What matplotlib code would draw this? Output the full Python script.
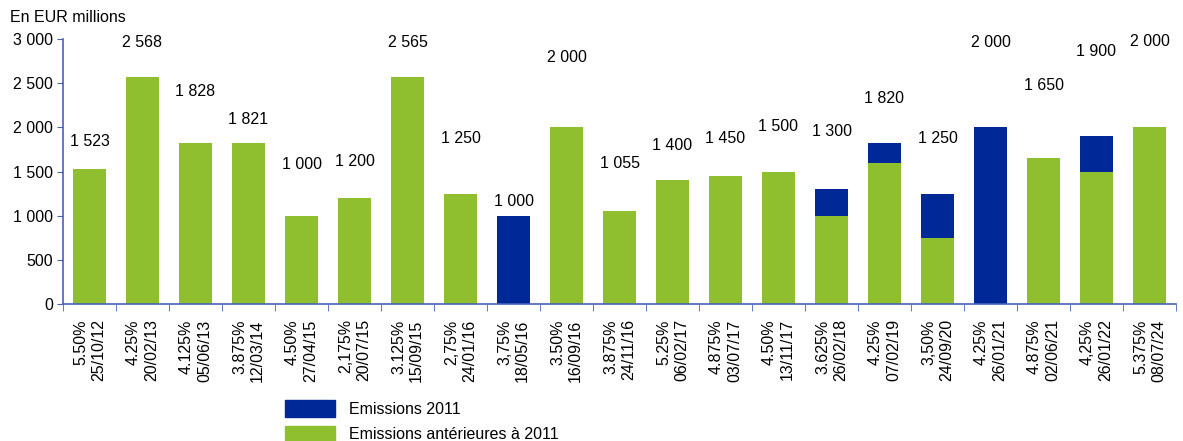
import matplotlib
matplotlib.use("Agg")
import matplotlib.pyplot as plt
from matplotlib.patches import Patch
from matplotlib.ticker import FuncFormatter, MultipleLocator
import numpy as np

plt.rcParams['font.family'] = ['Liberation Sans', 'DejaVu Sans']

coupons = ["5.50%", "4.25%", "4.125%", "3.875%", "4.50%", "2,175%", "3.125%", "2,75%",
           "3,75%", "3.50%", "3.875%", "5.25%", "4.875%", "4.50%", "3.625%", "4.25%",
           "3,50%", "4.25%", "4.875%", "4,25%", "5.375%"]
dates = ["25/10/12", "20/02/13", "05/06/13", "12/03/14", "27/04/15", "20/07/15", "15/09/15",
         "24/01/16", "18/05/16", "16/09/16", "24/11/16", "06/02/17", "03/07/17", "13/11/17",
         "26/02/18", "07/02/19", "24/09/20", "26/01/21", "02/06/21", "26/01/22", "08/07/24"]
# emissions before 2011 (green) and 2011 emissions (blue)
before_2011 = [1523, 2568, 1828, 1821, 1000, 1200, 2565, 1250, 0, 2000, 1055,
               1400, 1450, 1500, 1000, 1600, 750, 0, 1650, 1500, 2000]
in_2011 = [0, 0, 0, 0, 0, 0, 0, 0, 1000, 0, 0,
           0, 0, 0, 300, 220, 500, 2000, 0, 400, 0]
# height at which each total label sits (as in the source chart)
label_y = [1845, 2966, 2400, 2094, 1574, 1608, 2966, 1879, 1155, 2796, 1585,
           1800, 1879, 2015, 1958, 2332, 1868, 2966, 2468, 2853, 2977]

green = '#8fbf2f'
blue = '#002896'
axis_col = '#4a62b8'

fig = plt.figure(figsize=(11.83, 4.41), dpi=100)
ax = fig.add_axes([63 / 1183, 1 - 304 / 441, 1113 / 1183, 265 / 441])

x = np.arange(len(dates))
ax.bar(x, before_2011, width=0.64, color=green)
ax.bar(x, in_2011, width=0.64, bottom=before_2011, color=blue)

totals = np.array(before_2011) + np.array(in_2011)
for xi, t, ly in zip(x, totals, label_y):
    ax.text(xi, ly, f"{t:,}".replace(",", " "), ha='center', va='center',
            fontsize=11.5, clip_on=False)

ax.set_xlim(-0.5, len(dates) - 0.5)
ax.set_ylim(0, 3000)
ax.yaxis.set_major_locator(MultipleLocator(500))
ax.yaxis.set_major_formatter(FuncFormatter(lambda v, p: f"{int(v):,}".replace(",", " ")))
ax.tick_params(axis='y', labelsize=11.5, length=4, color=axis_col, pad=3)

ax.set_xticks(x)
ax.set_xticklabels([c + "\n" + d for c, d in zip(coupons, dates)], rotation=90,
                   fontsize=11.5, multialignment='right', linespacing=1.25)
ax.tick_params(axis='x', which='major', length=0, pad=11)
ax.set_xticks(np.arange(-0.5, len(dates) + 0.5, 1), minor=True)
ax.tick_params(axis='x', which='minor', length=5, color=axis_col)

for s in ['top', 'right']:
    ax.spines[s].set_visible(False)
for s in ['left', 'bottom']:
    ax.spines[s].set_color(axis_col)
    ax.spines[s].set_linewidth(1.2)

fig.text(10 / 1183, 1 - 18 / 441, "En EUR millions", fontsize=11.5, va='center', ha='left')

handles = [Patch(color=blue, label="Emissions 2011"),
           Patch(color=green, label="Emissions antérieures à 2011")]
fig.legend(handles=handles, loc='upper left', bbox_to_anchor=(279 / 1183, 1 - 394 / 441),
           frameon=False, fontsize=11.5, handlelength=3.1, handleheight=1.2,
           labelspacing=0.55, handletextpad=0.9, borderaxespad=0)

fig.savefig("out.png", dpi=100)
